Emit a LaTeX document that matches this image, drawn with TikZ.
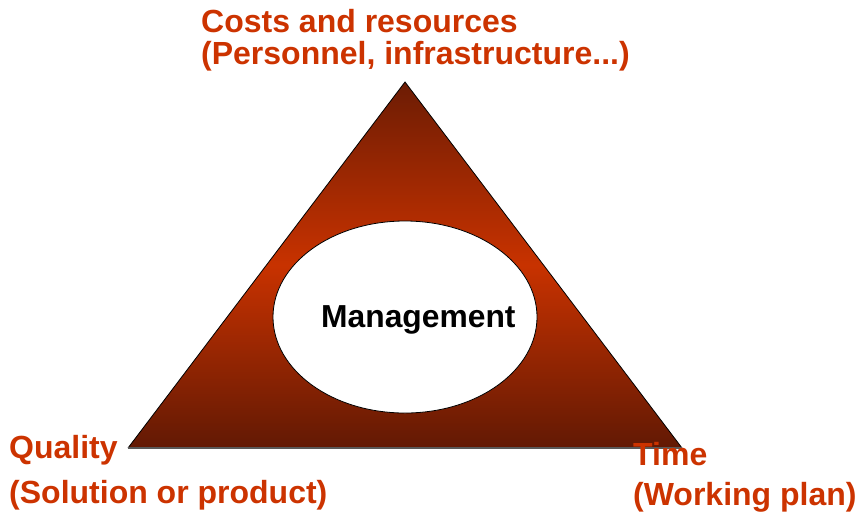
\documentclass[tikz,border=0pt]{standalone}
\usepackage{fontspec}
\setmainfont{Liberation Sans}
\begin{document}
\definecolor{labelred}{HTML}{CC3300}
\definecolor{rustdark}{HTML}{6C1C04}
\definecolor{rustmid}{HTML}{C83200}
\definecolor{rustlow}{HTML}{621904}
\tikzset{
  cornerlabel/.style={anchor=base west, inner sep=0pt, text=labelred,
    font=\fontsize{32}{33}\selectfont\bfseries},
  centerlabel/.style={anchor=base west, inner sep=0pt, text=black,
    font=\fontsize{31.8}{33}\selectfont\bfseries},
}
\begin{tikzpicture}[x=1pt,y=-1pt]
  \useasboundingbox (0,0) rectangle (858,515);
  % triangle corners
  \coordinate (apex) at (405,82);
  \coordinate (bl) at (128,448);
  \coordinate (br) at (682,448);
  % shaded triangle: dark at both ends, bright in the middle
  \shade[top color=rustdark, bottom color=rustlow, middle color=rustmid]
    (apex) -- (bl) -- (br) -- cycle;
  \draw[black, line width=0.8pt, line join=miter] (bl) -- (apex) -- (br);
  \draw[black!65, line width=1.6pt] (bl) -- (br);
  % central ellipse
  \draw[fill=white, line width=0.8pt] (405,317) ellipse [x radius=132, y radius=96];
  \node[centerlabel] (mgmt) at (321,327) {Management};
  % corner labels
  \node[cornerlabel] (costs1) at (201,32) {Costs and resources};
  \node[cornerlabel] (costs2) at (201,64) {(Personnel, infrastructure...)};
  \node[cornerlabel] (qual1) at (9,458) {Quality};
  \node[cornerlabel] (qual2) at (9,503) {(Solution or product)};
  \node[cornerlabel] (time1) at (633,465) {Time};
  \node[cornerlabel] (time2) at (633,505) {(Working plan)};
\end{tikzpicture}
\end{document}
